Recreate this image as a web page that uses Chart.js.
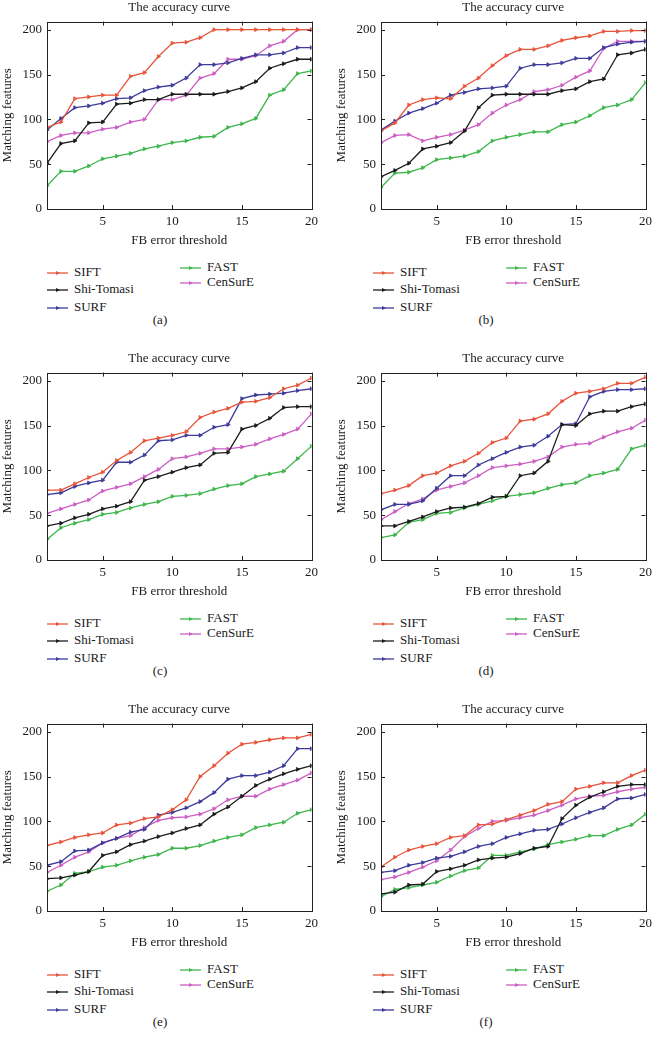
<!DOCTYPE html>
<html>
<head>
<meta charset="utf-8">
<script src="https://cdn.jsdelivr.net/npm/chart.js@4.4.0/dist/chart.umd.min.js"></script>
<style>
body{margin:0;width:653px;height:1054px;overflow:hidden;position:relative;background:#fff;font-family:"Liberation Serif",serif;color:#1a1a1a}
canvas{position:absolute}
.leg{position:absolute;font-size:13px;line-height:14px;white-space:nowrap;transform:translateY(-50%)}
.leg svg{vertical-align:middle;margin-right:6px}
.cap{position:absolute;font-size:13px;transform:translate(-50%,-50%)}
</style>
</head>
<body>
<script>
// FB error threshold (x) and tick labels
var thresholds = [1,2,3,4,5,6,7,8,9,10,11,12,13,14,15,16,17,18,19,20];
var xTicks = [5,10,15,20];
var yTicks = [0,50,100,150,200];
var names = ['SIFT','Shi-Tomasi','SURF','FAST','CenSurE'];
var colors = ['#e8543a','#1c1c1c','#3d3b9a','#3db64b','#cc5ec4'];

// (a)
var siftA = [91,97,123,125,127,127,148,152,170,185,186,191,200,200,200,200,200,200,200,200];
var shiA  = [51,73,76,96,97,117,118,122,122,128,128,128,128,131,135,142,157,162,167,167];
var surfA = [88,101,113,115,118,123,124,132,136,138,146,161,161,163,168,172,172,174,180,180];
var fastA = [26,42,42,48,56,59,62,67,70,74,76,80,81,91,95,101,127,133,151,154];
var cenA  = [75,82,85,85,89,91,97,100,122,122,127,146,151,167,167,171,182,187,200,200];
// (b)
var siftB = [87,96,116,122,124,123,137,146,160,171,178,178,182,188,191,193,198,198,199,199];
var shiB  = [36,43,51,67,70,74,87,113,127,128,128,128,128,132,134,142,145,172,174,178];
var surfB = [88,98,107,112,118,127,130,134,135,137,157,161,161,163,168,168,180,184,186,187];
var fastB = [24,40,41,46,55,57,59,64,76,80,83,86,86,94,97,104,113,116,122,141];
var cenB  = [74,82,83,76,80,83,88,94,107,116,122,131,133,138,147,154,179,187,187,187];
// (c)
var siftC = [78,78,85,92,98,111,120,133,136,139,143,159,165,169,176,177,181,191,195,203];
var shiC  = [38,41,47,51,57,60,65,89,93,98,103,106,119,120,146,150,158,170,171,171];
var surfC = [73,75,82,86,89,109,109,117,133,134,139,139,148,151,180,184,185,186,189,191];
var fastC = [23,36,41,45,51,53,58,62,65,71,72,74,79,83,85,93,96,99,113,127];
var cenC  = [52,57,62,67,77,81,85,93,101,113,115,119,124,124,126,129,135,140,146,163];
// (d)
var siftD = [74,78,83,94,97,105,110,119,131,136,155,157,163,177,186,188,191,197,197,204];
var shiD  = [38,38,43,48,54,58,59,63,70,71,94,97,110,151,150,163,166,166,171,174];
var surfD = [56,62,62,66,80,94,94,106,113,120,126,128,138,151,152,182,188,190,190,191];
var fastD = [25,28,42,45,52,53,58,62,66,71,73,75,80,84,86,94,97,101,124,128];
var cenD  = [45,54,63,68,78,82,86,94,103,105,107,110,115,126,129,130,137,143,147,156];
// (e)
var siftE = [73,77,82,85,87,96,98,103,105,113,124,150,162,176,186,188,191,193,193,197];
var shiE  = [36,37,40,44,62,66,74,78,83,87,92,96,108,116,128,140,147,153,158,162];
var surfE = [51,55,67,68,76,81,88,91,107,110,115,122,132,147,151,151,155,162,181,181];
var fastE = [22,29,42,44,49,51,56,60,63,70,70,73,78,82,85,93,96,99,109,113];
var cenE  = [43,51,60,66,76,81,84,93,101,104,105,108,114,124,128,128,136,141,146,154];
// (f)
var siftF = [49,60,68,72,75,82,84,96,97,102,107,112,119,122,136,139,143,143,151,157];
var shiF  = [19,21,29,30,44,47,51,57,59,60,64,70,72,103,118,127,133,139,141,141];
var surfF = [43,45,51,54,59,61,66,72,75,82,86,90,91,97,104,110,115,125,126,130];
var fastF = [16,24,26,29,32,39,45,48,62,62,66,69,74,77,80,84,84,91,96,108];
var cenF  = [35,38,43,49,56,68,83,92,100,101,104,107,112,118,125,128,129,133,136,138];

var panels = [
  {cap:'(a)', left:0,   top:0,   series:[siftA,shiA,surfA,fastA,cenA]},
  {cap:'(b)', left:334, top:0,   series:[siftB,shiB,surfB,fastB,cenB]},
  {cap:'(c)', left:0,   top:351, series:[siftC,shiC,surfC,fastC,cenC]},
  {cap:'(d)', left:334, top:351, series:[siftD,shiD,surfD,fastD,cenD]},
  {cap:'(e)', left:0,   top:702, series:[siftE,shiE,surfE,fastE,cenE]},
  {cap:'(f)', left:334, top:702, series:[siftF,shiF,surfF,fastF,cenF]}
];

var font = {family:'"Liberation Serif", serif', size:13, weight:'normal'};
var ink = '#1a1a1a';

// box around the plot with inward ticks on all four sides
var frame = {
  id: 'frame',
  afterDatasetsDraw: function(chart) {
    var ctx = chart.ctx, a = chart.chartArea, x = chart.scales.x, y = chart.scales.y;
    ctx.save();
    ctx.strokeStyle = '#222';
    ctx.lineWidth = 1;
    ctx.beginPath();
    xTicks.forEach(function(v){
      var px = Math.round(x.getPixelForValue(v)) + 0.5;
      ctx.moveTo(px, a.bottom); ctx.lineTo(px, a.bottom - 4);
      ctx.moveTo(px, a.top); ctx.lineTo(px, a.top + 4);
    });
    yTicks.forEach(function(v){
      var py = Math.round(y.getPixelForValue(v)) + 0.5;
      ctx.moveTo(a.left, py); ctx.lineTo(a.left + 4, py);
      ctx.moveTo(a.right, py); ctx.lineTo(a.right - 4, py);
    });
    ctx.stroke();
    ctx.strokeRect(Math.round(a.left) + 0.5, Math.round(a.top) + 0.5,
      Math.round(a.right - a.left), Math.round(a.bottom - a.top));
    ctx.restore();
  }
};

function legendIcon(color) {
  return '<svg width="21" height="6"><line x1="0" y1="3" x2="21" y2="3" stroke="' + color +
    '" stroke-width="1.3"/><polygon points="9,1 13,3 9,5" fill="' + color + '"/></svg>';
}

var legendSpots = [[47,272],[47,289],[47,307],[180,267],[180,282]];

panels.forEach(function(p){
  var cv = document.createElement('canvas');
  cv.width = 323; cv.height = 249;
  cv.style.left = p.left + 'px';
  cv.style.top = p.top + 'px';
  cv.style.width = '323px'; cv.style.height = '249px';
  document.body.appendChild(cv);

  var datasets = p.series.map(function(vals, i){
    return {
      label: names[i],
      data: vals.map(function(v, j){ return {x: thresholds[j], y: v}; }),
      borderColor: colors[i],
      backgroundColor: colors[i],
      borderWidth: 1.3,
      pointStyle: 'triangle',
      rotation: 90,
      pointRadius: 2.2,
      pointBorderWidth: 0.8,
      tension: 0
    };
  });

  new Chart(cv, {
    type: 'line',
    data: {datasets: datasets},
    options: {
      responsive: false,
      animation: false,
      layout: {padding: {left: 0, right: 10, top: 0, bottom: 0}},
      plugins: {
        legend: {display: false},
        tooltip: {enabled: false},
        title: {display: true, text: 'The accuracy curve', color: ink, font: font,
                fullSize: false, padding: {top: 0, bottom: 6}}
      },
      scales: {
        x: {
          type: 'linear', min: 1, max: 20,
          grid: {display: false, drawTicks: false},
          border: {display: false},
          afterBuildTicks: function(s){ s.ticks = xTicks.map(function(v){ return {value: v}; }); },
          afterFit: function(s){ s.height = 40; },
          ticks: {color: ink, font: font, padding: 5, maxRotation: 0},
          title: {display: true, text: 'FB error threshold', color: ink, font: font,
                  padding: {top: 0, bottom: 1}}
        },
        y: {
          min: 0, max: 209,
          grid: {display: false, drawTicks: false},
          border: {display: false},
          afterBuildTicks: function(s){ s.ticks = yTicks.map(function(v){ return {value: v}; }); },
          afterFit: function(s){ s.width = 47; },
          ticks: {color: ink, font: font, padding: 5},
          title: {display: true, text: 'Matching features', color: ink, font: font,
                  padding: {top: 0, bottom: 0}}
        }
      }
    },
    plugins: [frame]
  });

  var lx = p.left === 0 ? 0 : 326;
  legendSpots.forEach(function(s, i){
    var d = document.createElement('div');
    d.className = 'leg';
    d.style.left = (lx + s[0]) + 'px';
    d.style.top = (p.top + s[1]) + 'px';
    d.innerHTML = legendIcon(colors[i]) + names[i];
    document.body.appendChild(d);
  });
  var c = document.createElement('div');
  c.className = 'cap';
  c.style.left = (lx + 160) + 'px';
  c.style.top = (p.top + 320) + 'px';
  c.textContent = p.cap;
  document.body.appendChild(c);
});
</script>
</body>
</html>
